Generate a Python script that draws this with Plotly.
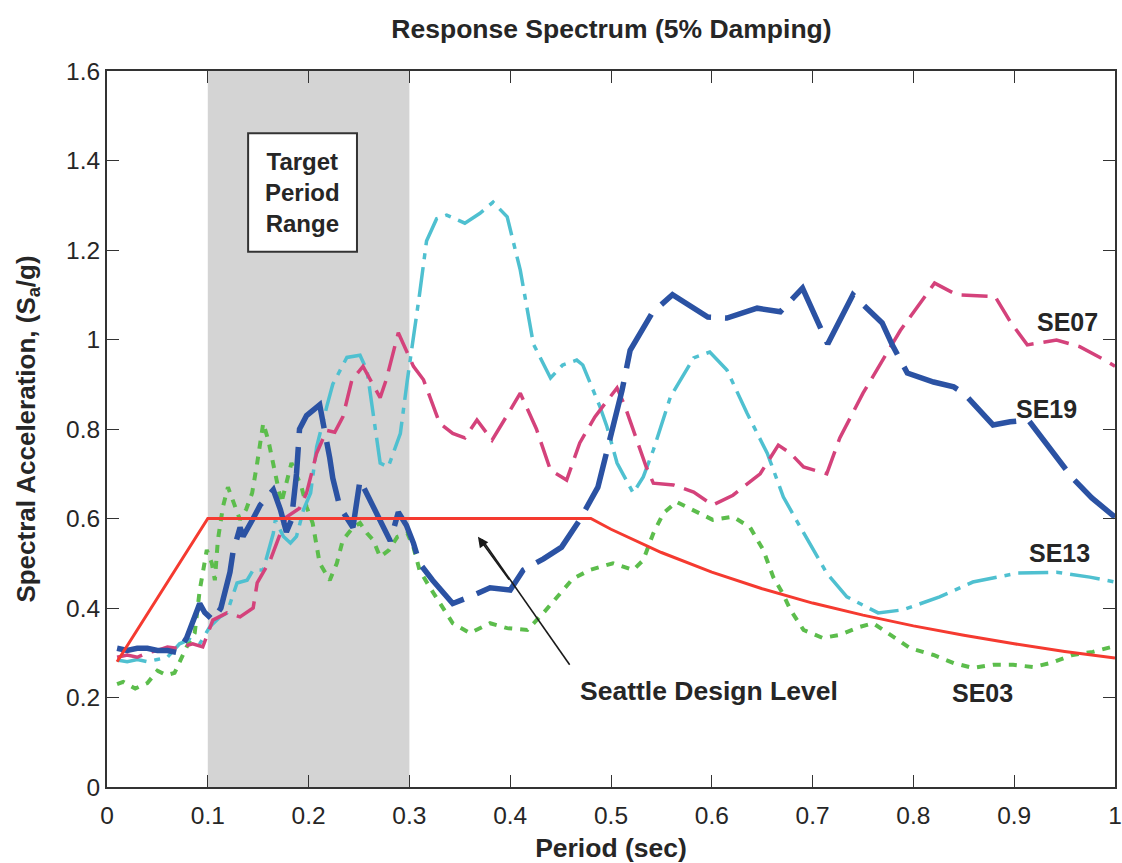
import plotly.graph_objects as go

# ---- spectral ordinates (period in sec, Sa in g) ----
se19_T = [0.01, 0.02, 0.03, 0.04, 0.05, 0.06, 0.07, 0.079, 0.092, 0.097, 0.105, 0.113, 0.122, 0.125,
          0.132, 0.135, 0.145, 0.152, 0.165, 0.172, 0.178, 0.183, 0.188, 0.191, 0.198, 0.211, 0.221,
          0.224, 0.231, 0.244, 0.251, 0.261, 0.271, 0.281, 0.289, 0.297, 0.304, 0.31, 0.323, 0.343,
          0.36, 0.38, 0.40, 0.413, 0.433, 0.451, 0.469, 0.487, 0.492, 0.506, 0.511, 0.519, 0.529,
          0.541, 0.561, 0.596, 0.615, 0.645, 0.668, 0.674, 0.69, 0.715, 0.727, 0.74, 0.769, 0.779,
          0.794, 0.82, 0.84, 0.85, 0.879, 0.896, 0.914, 0.958, 0.977, 1.0]
se19_Sa = [0.31, 0.305, 0.31, 0.31, 0.305, 0.305, 0.30, 0.333, 0.41, 0.39, 0.373, 0.40, 0.48, 0.525,
           0.58, 0.56, 0.60, 0.63, 0.664, 0.62, 0.57, 0.597, 0.70, 0.80, 0.83, 0.854, 0.735,
           0.69, 0.626, 0.58, 0.686, 0.64, 0.597, 0.55, 0.614, 0.585, 0.545, 0.50, 0.462, 0.41,
           0.425, 0.445, 0.44, 0.485, 0.51, 0.536, 0.597, 0.67, 0.715, 0.84, 0.887, 0.976, 1.017,
           1.06, 1.10, 1.05, 1.048, 1.07, 1.062, 1.077, 1.115, 0.99, 1.043, 1.10, 1.037, 0.988,
           0.925, 0.905, 0.894, 0.88, 0.809, 0.816, 0.82, 0.69, 0.646, 0.603]

se07_T = [0.01, 0.02, 0.03, 0.04, 0.05, 0.06, 0.07, 0.085, 0.095, 0.105, 0.119, 0.132, 0.145, 0.149,
          0.162, 0.173, 0.178, 0.191, 0.198, 0.208, 0.218, 0.226, 0.234, 0.243, 0.254, 0.271, 0.277,
          0.289, 0.304, 0.314, 0.33, 0.343, 0.355, 0.367, 0.382, 0.40, 0.41, 0.426, 0.44, 0.456,
          0.469, 0.484, 0.506, 0.514, 0.535, 0.542, 0.562, 0.582, 0.601, 0.621, 0.648, 0.666, 0.678,
          0.691, 0.714, 0.727, 0.75, 0.787, 0.821, 0.843, 0.881, 0.896, 0.913, 0.942, 0.965, 0.99, 1.0]
se07_Sa = [0.29, 0.295, 0.29, 0.30, 0.305, 0.313, 0.31, 0.32, 0.313, 0.373, 0.389, 0.38, 0.40, 0.456,
           0.507, 0.574, 0.603, 0.623, 0.657, 0.746, 0.797, 0.793, 0.827, 0.91, 0.94, 0.87, 0.91,
           1.015, 0.94, 0.91, 0.813, 0.79, 0.78, 0.82, 0.775, 0.842, 0.88, 0.80, 0.708, 0.686,
           0.769, 0.827, 0.892, 0.85, 0.715, 0.679, 0.675, 0.659, 0.63, 0.652, 0.70, 0.764, 0.746,
           0.715, 0.70, 0.78, 0.88, 1.02, 1.126, 1.10, 1.096, 1.04, 0.988, 0.999, 0.984, 0.954, 0.94]

se13_T = [0.01, 0.02, 0.03, 0.04, 0.05, 0.06, 0.072, 0.082, 0.092, 0.102, 0.112, 0.119, 0.129, 0.139,
          0.145, 0.155, 0.165, 0.167, 0.175, 0.182, 0.188, 0.195, 0.202, 0.208, 0.218, 0.224, 0.238,
          0.251, 0.258, 0.266, 0.271, 0.279, 0.291, 0.298, 0.304, 0.31, 0.317, 0.327, 0.337, 0.355,
          0.37, 0.383, 0.397, 0.41, 0.423, 0.44, 0.452, 0.466, 0.472, 0.489, 0.496, 0.506, 0.522,
          0.532, 0.542, 0.559, 0.582, 0.598, 0.615, 0.635, 0.655, 0.671, 0.688, 0.714, 0.734, 0.765,
          0.79, 0.826, 0.859, 0.903, 0.942, 0.975, 1.0]
se13_Sa = [0.284, 0.28, 0.285, 0.28, 0.285, 0.29, 0.32, 0.33, 0.32, 0.358, 0.38, 0.389, 0.456, 0.462,
           0.485, 0.485, 0.567, 0.597, 0.56, 0.545, 0.56, 0.62, 0.657, 0.76, 0.85, 0.90, 0.96,
           0.965, 0.93, 0.798, 0.724, 0.715, 0.79, 0.91, 0.999, 1.10, 1.22, 1.27, 1.278, 1.26,
           1.282, 1.307, 1.274, 1.155, 0.99, 0.914, 0.943, 0.954, 0.943, 0.85, 0.805, 0.724, 0.657,
           0.693, 0.753, 0.872, 0.959, 0.972, 0.932, 0.835, 0.746, 0.648, 0.58, 0.478, 0.425, 0.389,
           0.396, 0.425, 0.458, 0.478, 0.48, 0.469, 0.458]

se03_T = [0.01, 0.016, 0.028, 0.04, 0.05, 0.059, 0.067, 0.074, 0.079, 0.087, 0.092, 0.095, 0.099,
          0.104, 0.107, 0.11, 0.115, 0.12, 0.125, 0.132, 0.138, 0.144, 0.149, 0.155, 0.16, 0.165,
          0.173, 0.183, 0.193, 0.198, 0.204, 0.211, 0.221, 0.228, 0.234, 0.244, 0.251, 0.258, 0.264,
          0.271, 0.28, 0.288, 0.298, 0.304, 0.31, 0.32, 0.333, 0.343, 0.36, 0.38, 0.397, 0.417,
          0.433, 0.449, 0.462, 0.479, 0.502, 0.522, 0.532, 0.542, 0.552, 0.565, 0.582, 0.601, 0.621,
          0.638, 0.651, 0.661, 0.67, 0.678, 0.691, 0.71, 0.727, 0.747, 0.76, 0.78, 0.797, 0.82,
          0.84, 0.859, 0.879, 0.899, 0.919, 0.936, 0.958, 0.978, 1.0]
se03_Sa = [0.23, 0.235, 0.22, 0.232, 0.26, 0.25, 0.255, 0.29, 0.313, 0.344, 0.44, 0.478, 0.53,
           0.50, 0.462, 0.552, 0.626, 0.67, 0.641, 0.597, 0.62, 0.657, 0.724, 0.813, 0.775, 0.724,
           0.635, 0.724, 0.67, 0.626, 0.59, 0.50, 0.462, 0.50, 0.552, 0.58, 0.59, 0.567, 0.552,
           0.514, 0.53, 0.559, 0.567, 0.536, 0.485, 0.447, 0.402, 0.366, 0.344, 0.366, 0.355, 0.351,
           0.389, 0.43, 0.465, 0.485, 0.50, 0.485, 0.507, 0.567, 0.612, 0.637, 0.619, 0.597, 0.604,
           0.58, 0.53, 0.469, 0.434, 0.396, 0.351, 0.333, 0.34, 0.358, 0.366, 0.335, 0.31, 0.295,
           0.277, 0.266, 0.273, 0.273, 0.268, 0.277, 0.295, 0.302, 0.315]

# Seattle design spectrum
design_T = [0.01, 0.10, 0.48, 0.50, 0.55, 0.60, 0.65, 0.70, 0.75, 0.80, 0.85, 0.90, 0.95, 1.00]
design_Sa = [0.28, 0.60, 0.60, 0.576, 0.524, 0.48, 0.443, 0.411, 0.384, 0.36, 0.339, 0.32, 0.303, 0.288]

x_ticks = [0, 0.1, 0.2, 0.3, 0.4, 0.5, 0.6, 0.7, 0.8, 0.9, 1]
x_tick_text = ["0", "0.1", "0.2", "0.3", "0.4", "0.5", "0.6", "0.7", "0.8", "0.9", "1"]
y_ticks = [0, 0.2, 0.4, 0.6, 0.8, 1.0, 1.2, 1.4, 1.6]
y_tick_text = ["0", "0.2", "0.4", "0.6", "0.8", "1", "1.2", "1.4", "1.6"]

target_range = (0.1, 0.3)

FONT = "Liberation Sans, Arial, sans-serif"
TXT = "#262626"

fig = go.Figure()

fig.add_trace(go.Scatter(x=se03_T, y=se03_Sa, mode="lines", name="SE03",
                         line=dict(color="#5cbd4c", width=4, dash="8px,8px")))
fig.add_trace(go.Scatter(x=se13_T, y=se13_Sa, mode="lines", name="SE13",
                         line=dict(color="#4fc0d0", width=3.5, dash="30px,8px,6px,8px")))
fig.add_trace(go.Scatter(x=se07_T, y=se07_Sa, mode="lines", name="SE07",
                         line=dict(color="#d4427b", width=3.5, dash="26px,10px")))
fig.add_trace(go.Scatter(x=se19_T, y=se19_Sa, mode="lines", name="SE19",
                         line=dict(color="#2b52a3", width=5.5, dash="60px,14px")))
fig.add_trace(go.Scatter(x=design_T, y=design_Sa, mode="lines", name="Seattle Design Level",
                         line=dict(color="#f53a30", width=3)))

# shaded target period band
fig.add_shape(type="rect", xref="x", yref="paper", x0=target_range[0], x1=target_range[1],
              y0=0, y1=1, fillcolor="#d4d4d4", line=dict(width=0), layer="below")

# boxed band label
fig.add_shape(type="rect", xref="x", yref="y", x0=0.14, x1=0.248, y0=1.196, y1=1.461,
              fillcolor="white", line=dict(color="#333333", width=2), layer="above")

# pointer from the label to the design curve
fig.add_shape(type="line", xref="x", yref="y", x0=0.459, y0=0.273, x1=0.372, y1=0.553,
              line=dict(color="#1a1a1a", width=1.6), layer="above")

annotations = [
    dict(x=0.194, y=1.328, text="<b>Target<br>Period<br>Range</b>", showarrow=False,
         font=dict(size=24, color=TXT, family=FONT)),
    dict(x=0.953, y=1.039, text="<b>SE07</b>", showarrow=False, font=dict(size=25, color=TXT, family=FONT)),
    dict(x=0.932, y=0.845, text="<b>SE19</b>", showarrow=False, font=dict(size=25, color=TXT, family=FONT)),
    dict(x=0.945, y=0.523, text="<b>SE13</b>", showarrow=False, font=dict(size=25, color=TXT, family=FONT)),
    dict(x=0.869, y=0.210, text="<b>SE03</b>", showarrow=False, font=dict(size=25, color=TXT, family=FONT)),
    dict(x=0.597, y=0.215, text="<b>Seattle Design Level</b>", showarrow=False,
         font=dict(size=26.5, color=TXT, family=FONT)),
    # arrowhead at the design curve
    dict(x=0.368, y=0.559, ax=0.40, ay=0.46, xref="x", yref="y", axref="x", ayref="y",
         text="", showarrow=True, arrowhead=2, arrowsize=1.3, arrowwidth=1.6, arrowcolor="#1a1a1a",
         standoff=0, startstandoff=0),
]

axis_common = dict(showgrid=False, zeroline=False, showline=True, linecolor="#333333", linewidth=2,
                   mirror="allticks", ticks="inside", ticklen=12, tickwidth=1.2, tickcolor="#333333",
                   automargin=False, tickfont=dict(size=24.5, color=TXT, family=FONT))

fig.update_layout(
    width=1122, height=863,
    margin=dict(l=107, r=7, t=71, b=76),
    paper_bgcolor="white", plot_bgcolor="white",
    showlegend=False,
    title=dict(text="<b>Response Spectrum (5% Damping)</b>", x=0.545, xanchor="center",
               y=1 - 29 / 863, yanchor="middle", font=dict(size=26.5, color=TXT, family=FONT)),
    xaxis=dict(range=[0, 1], tickvals=x_ticks, ticktext=x_tick_text, ticklabelstandoff=6,
               title=dict(text="<b>Period (sec)</b>", font=dict(size=26.5, color=TXT, family=FONT), standoff=12),
               **axis_common),
    yaxis=dict(range=[0, 1.6], tickvals=y_ticks, ticktext=y_tick_text,
               title=dict(text="<b>Spectral Acceleration, (S<sub>a</sub>/g)</b>",
                          font=dict(size=26, color=TXT, family=FONT), standoff=23),
               **axis_common),
    annotations=annotations,
)

fig.write_html("out.html")
